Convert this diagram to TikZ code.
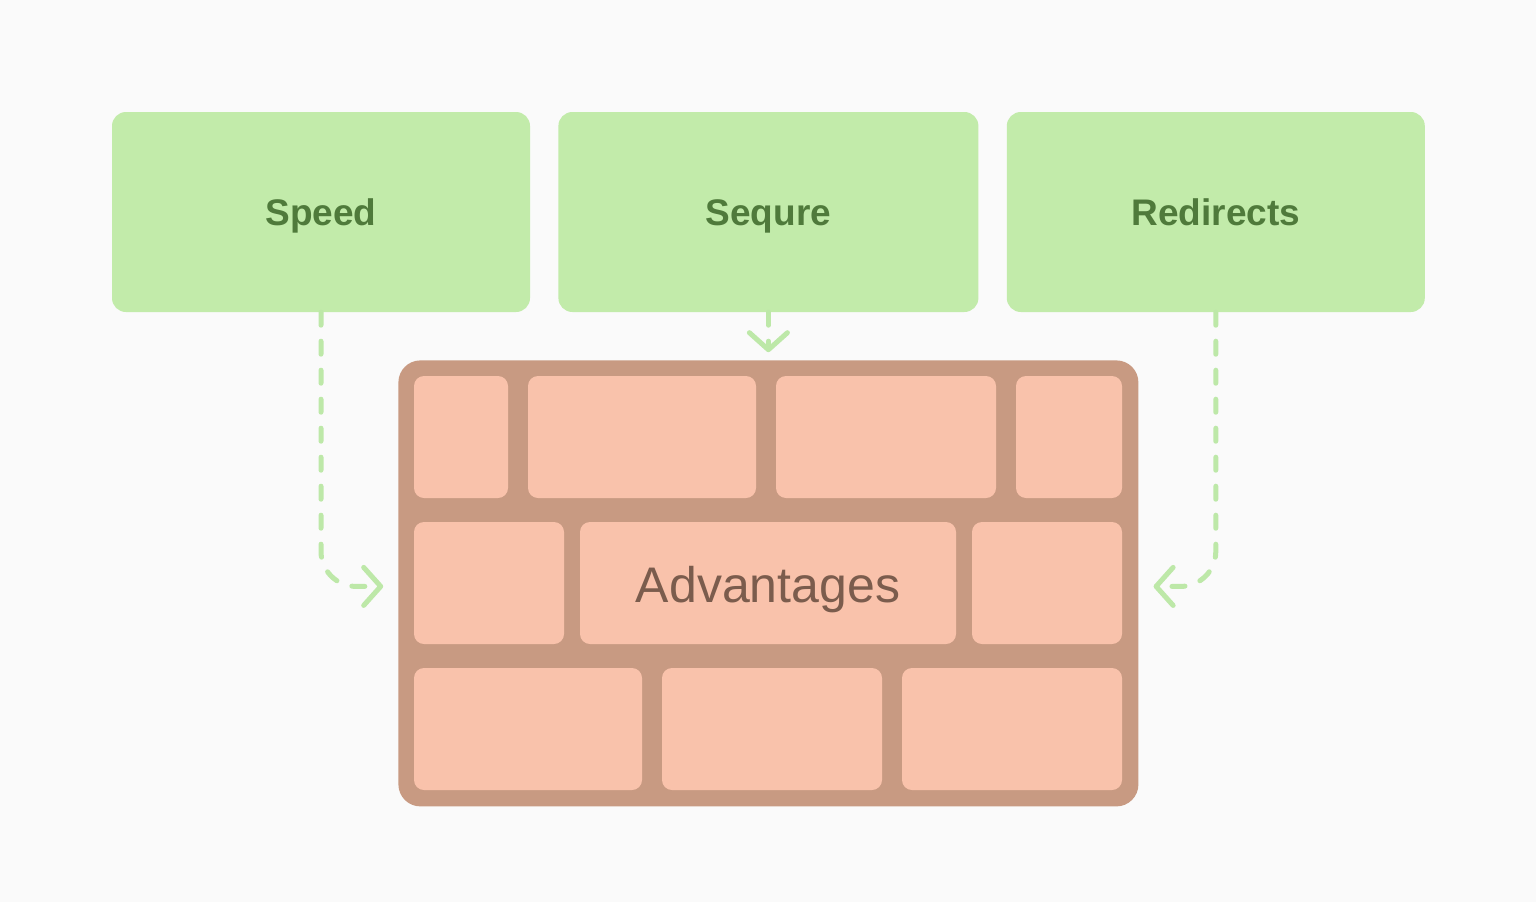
\documentclass[tikz,border=0pt]{standalone}
\usepackage{fontspec}
\setmainfont{Liberation Sans}
\usetikzlibrary{arrows.meta,positioning}
\definecolor{paper}{HTML}{FAFAFA}
\definecolor{leaf}{HTML}{C2EBAA}
\definecolor{leafdark}{HTML}{4F7A3B}
\definecolor{leafline}{HTML}{BDE8A8}
\definecolor{mortar}{HTML}{C89A82}
\definecolor{brick}{HTML}{F9C2AB}
\definecolor{brickdark}{HTML}{7B5C4D}

\begin{document}
\begin{tikzpicture}[x=1pt,y=-1pt,>={Straight Barb[length=17pt,width=38pt,round]},node distance=28pt]
	\tikzstyle{feature}=[fill=leaf,draw=none,rounded corners=14pt,minimum width=418pt,minimum height=200pt,text=leafdark,font=\bfseries\fontsize{37}{44}\selectfont,text height=26pt,text depth=0pt,inner sep=0pt]
	\tikzstyle{flow}=[->,draw=leafline,line width=5pt,line cap=round,line join=round,dash pattern=on 13pt off 16pt]
	
	\fill[paper] (0,0) rectangle (1536,902);
	
	\node[feature] (speed) at (321,212) {Speed};
	\node[feature,minimum width=420pt] (sequre) [right=of speed] {Sequre};
	\node[feature] (redirects) [right=of sequre] {Redirects};
	
	\node[fill=mortar,rounded corners=22pt,minimum width=740pt,minimum height=446pt,inner sep=0pt] (wall) [below=48pt of sequre] {};
	
	% bricks: left/right/top/bottom
	\foreach \xa/\xb/\ya/\yb in {414/508/376/498,528/756/376/498,776/996/376/498,1016/1122/376/498,
		414/564/522/644,580/956/522/644,972/1122/522/644,
		414/642/668/790,662/882/668/790,902/1122/668/790}
	\fill[brick,rounded corners=10pt] (\xa,\ya) rectangle (\xb,\yb);
	
	\node[anchor=base,text=brickdark,font=\fontsize{50}{60}\selectfont,inner sep=0pt] (adv) at (768,602) {Advantages};
	
	\draw[flow,rounded corners=35pt] (speed.south) |- ([xshift=-15pt,yshift=-3pt]wall.west);
	\draw[flow,shorten >=8pt] (sequre.south) -- (wall.north);
	\draw[flow,rounded corners=35pt] (redirects.south) |- ([xshift=15pt,yshift=-3pt]wall.east);
\end{tikzpicture}
\end{document}
